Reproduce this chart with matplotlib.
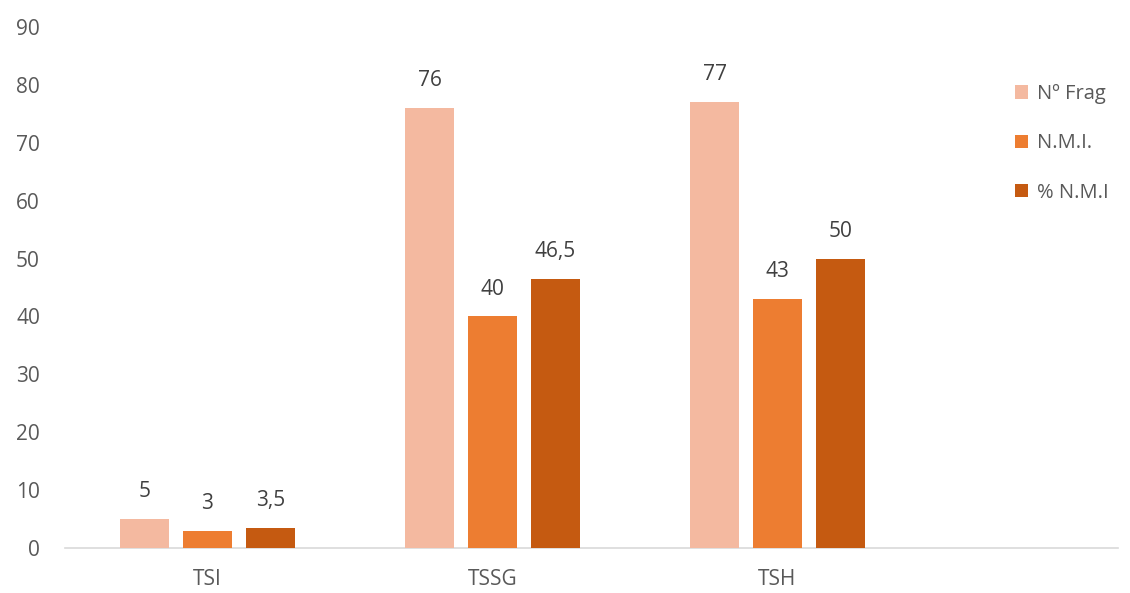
import matplotlib.pyplot as plt
import numpy as np

plt.rcParams['font.family'] = ['Open Sans', 'DejaVu Sans']

# datos por tramo
grupos = ['TSI', 'TSSG', 'TSH']
series = ['Nº Frag', 'N.M.I.', '% N.M.I']
n_frag = [5, 76, 77]
nmi = [3, 40, 43]
pct_nmi = [3.5, 46.5, 50]
etiquetas = [['5', '76', '77'], ['3', '40', '43'], ['3,5', '46,5', '50']]
colores = ['#F4B9A0', '#ED7D31', '#C55A11']

fig = plt.figure(figsize=(11.3, 5.93), dpi=100)
ax = fig.add_axes([0.0575, 0.0759, 0.932, 0.8786])

x = np.arange(len(grupos))
ancho = 0.172
desp = 0.221
valores = [n_frag, nmi, pct_nmi]
for i, (vals, col, nombre) in enumerate(zip(valores, colores, series)):
    barras = ax.bar(x + (i - 1) * desp, vals, ancho, color=col, label=nombre, zorder=3)
    for b, txt in zip(barras, etiquetas[i]):
        ax.text(b.get_x() + b.get_width() / 2, b.get_height() + 2.9, txt,
                ha='center', va='bottom', fontsize=15, color='#404040')

ax.set_xlim(-0.5, 3.195)
ax.set_ylim(0, 90)
ax.set_yticks(range(0, 91, 10))
ax.set_xticks(x)
ax.set_xticklabels(grupos)
ax.tick_params(axis='both', length=0, labelsize=15, labelcolor='#595959')
ax.tick_params(axis='y', pad=18)
ax.tick_params(axis='x', pad=15)
for s in ['top', 'right', 'left']:
    ax.spines[s].set_visible(False)
ax.spines['bottom'].set_color('#D9D9D9')
ax.spines['bottom'].set_linewidth(1.2)

ley = ax.legend(loc='upper left', bbox_to_anchor=(0.885, 0.925), frameon=False,
                fontsize=14.5, handlelength=0.65, handleheight=0.65, handletextpad=0.45,
                labelspacing=1.45, labelcolor='#595959')

fig.savefig('out.png', dpi=100)
